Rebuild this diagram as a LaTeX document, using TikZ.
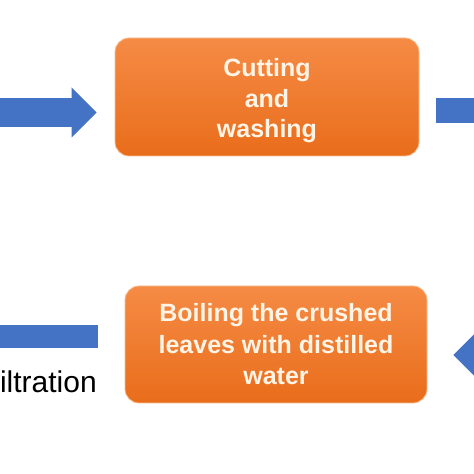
\documentclass[tikz,border=0pt]{standalone}
\usepackage{fontspec}
\setmainfont{Liberation Sans}
\usetikzlibrary{arrows.meta, positioning, calc}
\definecolor{stepblue}{HTML}{4472C4}
\definecolor{steptop}{HTML}{F58B45}
\definecolor{stepbot}{HTML}{E96D1B}
\definecolor{stepedge}{HTML}{F6BE92}
\definecolor{steptext}{HTML}{FFF4E6}

\begin{document}
\begin{tikzpicture}[
    x=1pt, y=1pt,
    stepbox/.style={rectangle, rounded corners=14pt, draw=stepedge, line width=0.8pt, top color=steptop, bottom color=stepbot, text=steptext, align=center, font=\bfseries\fontsize{25}{30.5}\selectfont, inner sep=0pt},
    flow/.style={draw=stepblue, line width=#1},
    flow/.default=25pt,
    tip/.style={-{Triangle[width=50pt, length=25pt, line width=0pt]}}
]
\useasboundingbox (0,0) rectangle (474,474);
\fill[white] (0,0) rectangle (474,474);
\clip (0,0) rectangle (474,474);

\node[stepbox, minimum width=304pt, minimum height=118pt] (cut) at (267,377) {\rule{0pt}{26pt}Cutting\\and\\washing};
\node[stepbox, minimum width=302pt, minimum height=117pt, font=\bfseries\fontsize{25}{31.5}\selectfont] (boil) at (276,129.5) {Boiling the crushed\\leaves with distilled\\water};
\node[anchor=base west, inner sep=0pt, font=\fontsize{30}{36}\selectfont] (filt) at (-18.5,81) {Filtration};

% off-screen ends
\coordinate (inTL) at (-40,361.5);
\coordinate (outTR) at (520,363.5);
\coordinate (inBR) at (530,119);
\coordinate (outBL) at (-60,137.5);

\draw[flow=29pt, tip, shorten >=18pt] (inTL) -- (inTL -| cut.west);
\draw[flow, tip, shorten <=17pt] (outTR -| cut.east) -- (outTR);
\draw[flow, tip, shorten >=26pt] (inBR) -- (inBR -| boil.east);
\draw[flow=23pt, tip, shorten <=27pt] (outBL -| boil.west) -- (outBL);

\end{tikzpicture}
\end{document}
